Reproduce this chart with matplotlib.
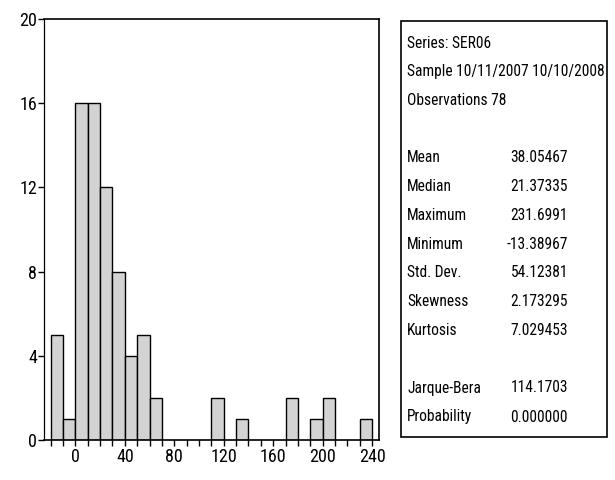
import matplotlib
matplotlib.use("Agg")
import matplotlib.pyplot as plt
import numpy as np
from matplotlib.patches import Rectangle

# histogram data (bin width 10)
bin_start = -20
bin_width = 10
counts = [5, 1, 16, 16, 12, 8, 4, 5, 2, 0, 0, 0, 0, 2, 0, 1, 0, 0, 0, 2, 0, 1, 2, 0, 0, 1]

# stats panel
header = ["Series: SER06", "Sample 10/11/2007 10/10/2008", "Observations 78"]
stat_names = ["Mean", "Median", "Maximum", "Minimum", "Std. Dev.", "Skewness", "Kurtosis"]
stat_values = ["38.05467", "21.37335", "231.6991", "-13.38967", "54.12381", "2.173295", "7.029453"]
test_names = ["Jarque-Bera", "Probability"]
test_values = ["114.1703", "0.000000"]

plt.rcParams['font.family'] = ['Roboto Condensed', 'Liberation Sans', 'DejaVu Sans']

W, H = 615, 480
fig = plt.figure(figsize=(W / 100, H / 100), dpi=100)
ax = fig.add_axes([44 / W, 1 - 440 / H, (379 - 44) / W, (440 - 19) / H])

edges = bin_start + bin_width * np.arange(len(counts) + 1)
c = np.array(counts)
keep = c > 0
ax.bar(edges[:-1][keep], c[keep], width=bin_width, align='edge',
       color='#d3d3d3', edgecolor='black', linewidth=1.0)

ax.set_xlim(-25.4, 245.6)
ax.set_ylim(0, 20)
ax.set_yticks([0, 4, 8, 12, 16, 20])
ax.set_xticks(np.arange(0, 241, 40))
ax.set_xticks(np.arange(-20, 241, 10), minor=True)
ax.tick_params(axis='both', which='both', direction='out', length=4, width=1,
               labelsize=13, pad=2)
ax.tick_params(axis='y', which='major', pad=1)
for s in ax.spines.values():
    s.set_linewidth(1.2)
ax.spines['left'].set_linewidth(0.9)

# stats box
fig.add_artist(Rectangle((401 / W, 1 - 437 / H), (607 - 401) / W, (437 - 21) / H,
                         transform=fig.transFigure, fill=False,
                         edgecolor='black', linewidth=1.2))
fs = 11.2
x_lab = 407 / W
x_val = 568 / W
y = 43
for t in header:
    fig.text(x_lab, 1 - y / H, t, fontsize=fs, va='center', ha='left')
    y += 28.6
y = 158
for n, v in zip(stat_names, stat_values):
    fig.text(x_lab, 1 - y / H, n, fontsize=fs, va='center', ha='left')
    fig.text(x_val, 1 - y / H, v, fontsize=fs, va='center', ha='right')
    y += 28.7
y = 388
for n, v in zip(test_names, test_values):
    fig.text(x_lab, 1 - y / H, n, fontsize=fs, va='center', ha='left')
    fig.text(x_val, 1 - y / H, v, fontsize=fs, va='center', ha='right')
    y += 29

fig.savefig("out.png", dpi=100)
